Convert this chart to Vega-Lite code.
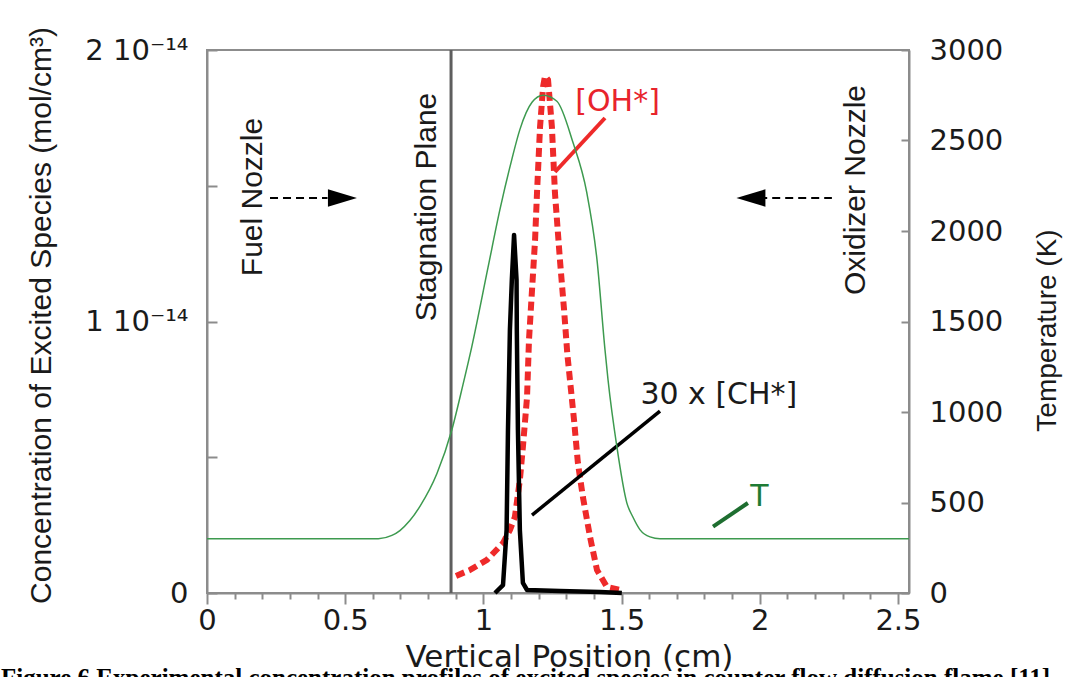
{
  "$schema": "https://vega.github.io/schema/vega-lite/v6.json",
  "width": 702,
  "height": 543,
  "autosize": {"type": "none"},
  "padding": {"left": 207, "top": 50, "right": 160, "bottom": 84},
  "background": "white",
  "config": {
    "view": {"stroke": "#8c8c8c", "strokeWidth": 2},
    "axis": {
      "domainColor": "#8c8c8c",
      "domainWidth": 2,
      "tickColor": "#8c8c8c",
      "tickWidth": 2,
      "grid": false,
      "labelFont": "DejaVu Sans",
      "labelFontSize": 29,
      "labelColor": "#1a1a1a",
      "titleColor": "#1a1a1a",
      "titleFontWeight": "normal",
      "labelOverlap": false,
      "labelFlush": false,
      "labelBound": false
    }
  },
  "title": {
    "text": "Figure 6 Experimental concentration profiles of excited species in counter flow diffusion flame [11]",
    "orient": "bottom",
    "anchor": "start",
    "font": "Liberation Serif",
    "fontWeight": "bold",
    "fontSize": 25,
    "color": "#000000",
    "offset": -6,
    "dx": -25
  },
  "resolve": {"scale": {"y": "independent"}, "axis": {"x": "independent"}},
  "layer": [
    {
      "layer": [
        {
          "data": {"values": [
            {"pos": 0.901, "conc": 0.063e-14},
            {"pos": 0.952, "conc": 0.085e-14},
            {"pos": 1.013, "conc": 0.122e-14},
            {"pos": 1.071, "conc": 0.184e-14},
            {"pos": 1.096, "conc": 0.232e-14},
            {"pos": 1.114, "conc": 0.280e-14},
            {"pos": 1.132, "conc": 0.416e-14},
            {"pos": 1.143, "conc": 0.538e-14},
            {"pos": 1.158, "conc": 0.722e-14},
            {"pos": 1.165, "conc": 0.932e-14},
            {"pos": 1.176, "conc": 1.116e-14},
            {"pos": 1.187, "conc": 1.300e-14},
            {"pos": 1.194, "conc": 1.473e-14},
            {"pos": 1.205, "conc": 1.716e-14},
            {"pos": 1.216, "conc": 1.864e-14},
            {"pos": 1.223, "conc": 1.904e-14},
            {"pos": 1.234, "conc": 1.890e-14},
            {"pos": 1.248, "conc": 1.716e-14},
            {"pos": 1.259, "conc": 1.473e-14},
            {"pos": 1.277, "conc": 1.227e-14},
            {"pos": 1.292, "conc": 1.042e-14},
            {"pos": 1.304, "conc": 0.877e-14},
            {"pos": 1.317, "conc": 0.748e-14},
            {"pos": 1.328, "conc": 0.637e-14},
            {"pos": 1.342, "conc": 0.479e-14},
            {"pos": 1.360, "conc": 0.354e-14},
            {"pos": 1.386, "conc": 0.206e-14},
            {"pos": 1.411, "conc": 0.085e-14},
            {"pos": 1.447, "conc": 0.022e-14},
            {"pos": 1.494, "conc": 0.011e-14}
          ]},
          "mark": {"type": "line", "color": "#ee2a2a", "strokeWidth": 6, "strokeDash": [9, 5], "strokeCap": "butt"},
          "encoding": {
            "x": {
              "field": "pos", "type": "quantitative", "sort": null,
              "scale": {"domain": [0, 2.54], "nice": false, "zero": false},
              "axis": {
                "orient": "bottom",
                "values": [0, 0.5, 1, 1.5, 2, 2.5],
                "format": "~g",
                "tickSize": 11,
                "labelPadding": 2,
                "title": "Vertical Position (cm)",
                "titleFont": "DejaVu Sans",
                "titleFontSize": 31,
                "titleX": 362,
                "titleY": 73,
                "titleAlign": "center",
                "titleBaseline": "alphabetic"
              }
            },
            "y": {
              "field": "conc", "type": "quantitative",
              "scale": {"domain": [0, 2e-14], "nice": false},
              "axis": {
                "values": [0, 5e-15, 1e-14, 1.5e-14, 2e-14],
                "tickSize": -10,
                "labelPadding": 29,
                "labelExpr": "datum.value == 0 ? '0' : (abs(datum.value*1e14 - round(datum.value*1e14)) < 0.01 ? round(datum.value*1e14) + ' 10⁻¹⁴' : '')",
                "title": "Concentration of Excited Species (mol/cm³)",
                "titleFont": "Liberation Sans",
                "titleFontSize": 30,
                "titleAngle": 270,
                "titleX": -157,
                "titleY": 265,
                "titleAlign": "center",
                "titleBaseline": "alphabetic"
              }
            }
          }
        },
        {
          "data": {"values": [
            {"pos": 1.042, "conc": 0.0},
            {"pos": 1.071, "conc": 0.029e-14},
            {"pos": 1.084, "conc": 0.232e-14},
            {"pos": 1.089, "conc": 0.600e-14},
            {"pos": 1.096, "conc": 0.969e-14},
            {"pos": 1.103, "conc": 1.153e-14},
            {"pos": 1.111, "conc": 1.319e-14},
            {"pos": 1.120, "conc": 1.153e-14},
            {"pos": 1.121, "conc": 0.969e-14},
            {"pos": 1.125, "conc": 0.600e-14},
            {"pos": 1.132, "conc": 0.232e-14},
            {"pos": 1.143, "conc": 0.037e-14},
            {"pos": 1.158, "conc": 0.011e-14},
            {"pos": 1.277, "conc": 0.007e-14},
            {"pos": 1.422, "conc": 0.004e-14},
            {"pos": 1.501, "conc": 0.0}
          ]},
          "mark": {"type": "line", "color": "#000000", "strokeWidth": 4.5, "strokeJoin": "round"},
          "encoding": {
            "x": {"field": "pos", "type": "quantitative", "sort": null},
            "y": {"field": "conc", "type": "quantitative"}
          }
        },
        {
          "data": {"values": [{"pos": 0.883}]},
          "mark": {"type": "rule", "color": "#5e5e5e", "strokeWidth": 3},
          "encoding": {"x": {"field": "pos", "type": "quantitative"}}
        },
        {
          "data": {"values": [
            {"pos": 1.440, "conc": 1.7495e-14, "pos2": 1.259, "conc2": 1.5506e-14}
          ]},
          "mark": {"type": "rule", "color": "#ee2a2a", "strokeWidth": 4},
          "encoding": {
            "x": {"field": "pos", "type": "quantitative"},
            "y": {"field": "conc", "type": "quantitative"},
            "x2": {"field": "pos2"},
            "y2": {"field": "conc2"}
          }
        },
        {
          "data": {"values": [
            {"pos": 1.639, "conc": 0.670e-14, "pos2": 1.176, "conc2": 0.287e-14}
          ]},
          "mark": {"type": "rule", "color": "#000000", "strokeWidth": 3.5},
          "encoding": {
            "x": {"field": "pos", "type": "quantitative"},
            "y": {"field": "conc", "type": "quantitative"},
            "x2": {"field": "pos2"},
            "y2": {"field": "conc2"}
          }
        },
        {
          "data": {"values": [
            {"pos": 1.831, "conc": 0.2442e-14, "pos2": 1.957, "conc2": 0.3315e-14}
          ]},
          "mark": {"type": "rule", "color": "#1e6e30", "strokeWidth": 4},
          "encoding": {
            "x": {"field": "pos", "type": "quantitative"},
            "y": {"field": "conc", "type": "quantitative"},
            "x2": {"field": "pos2"},
            "y2": {"field": "conc2"}
          }
        },
        {
          "data": {"values": [
            {"pos": 0.228, "pos2": 0.436, "conc": 1.455e-14},
            {"pos": 1.998, "pos2": 2.261, "conc": 1.455e-14}
          ]},
          "mark": {"type": "rule", "color": "#000000", "strokeWidth": 2, "strokeDash": [8, 5]},
          "encoding": {
            "x": {"field": "pos", "type": "quantitative"},
            "x2": {"field": "pos2"},
            "y": {"field": "conc", "type": "quantitative"}
          }
        },
        {
          "data": {"values": [{"pos": 0.490, "conc": 1.455e-14}]},
          "mark": {"type": "point", "shape": "M -1 -0.6 L 1 0 L -1 0.6 Z", "filled": true, "color": "#000000", "size": 841, "opacity": 1},
          "encoding": {
            "x": {"field": "pos", "type": "quantitative"},
            "y": {"field": "conc", "type": "quantitative"}
          }
        },
        {
          "data": {"values": [{"pos": 1.968, "conc": 1.455e-14}]},
          "mark": {"type": "point", "shape": "M 1 -0.6 L -1 0 L 1 0.6 Z", "filled": true, "color": "#000000", "size": 841, "opacity": 1},
          "encoding": {
            "x": {"field": "pos", "type": "quantitative"},
            "y": {"field": "conc", "type": "quantitative"}
          }
        },
        {
          "data": {"values": [
            {"pos": 0.199, "conc": 1.4586e-14, "label": "Fuel Nozzle"},
            {"pos": 0.827, "conc": 1.4217e-14, "label": "Stagnation Plane"},
            {"pos": 2.381, "conc": 1.4843e-14, "label": "Oxidizer Nozzle"}
          ]},
          "mark": {"type": "text", "font": "Liberation Sans", "fontSize": 30, "angle": 270, "align": "center", "baseline": "alphabetic", "color": "#1a1a1a"},
          "encoding": {
            "x": {"field": "pos", "type": "quantitative"},
            "y": {"field": "conc", "type": "quantitative"},
            "text": {"field": "label"}
          }
        },
        {
          "data": {"values": [{"pos": 1.4856, "conc": 1.8103e-14, "label": "[OH*]"}]},
          "mark": {"type": "text", "font": "DejaVu Sans", "fontSize": 30, "align": "center", "baseline": "middle", "color": "#e8242c"},
          "encoding": {
            "x": {"field": "pos", "type": "quantitative"},
            "y": {"field": "conc", "type": "quantitative"},
            "text": {"field": "label"}
          }
        },
        {
          "data": {"values": [{"pos": 1.852, "conc": 0.729e-14, "label": "30 x [CH*]"}]},
          "mark": {"type": "text", "font": "DejaVu Sans", "fontSize": 30, "align": "center", "baseline": "middle", "color": "#1a1a1a"},
          "encoding": {
            "x": {"field": "pos", "type": "quantitative"},
            "y": {"field": "conc", "type": "quantitative"},
            "text": {"field": "label"}
          }
        },
        {
          "data": {"values": [{"pos": 1.999, "conc": 0.3536e-14, "label": "T"}]},
          "mark": {"type": "text", "font": "DejaVu Sans", "fontSize": 30, "align": "center", "baseline": "middle", "color": "#1e7b34"},
          "encoding": {
            "x": {"field": "pos", "type": "quantitative"},
            "y": {"field": "conc", "type": "quantitative"},
            "text": {"field": "label"}
          }
        }
      ]
    },
    {
      "data": {"values": [
        {"pos": 0.0, "temp": 300},
        {"pos": 0.3, "temp": 300},
        {"pos": 0.62, "temp": 300},
        {"pos": 0.669, "temp": 318},
        {"pos": 0.698, "temp": 345},
        {"pos": 0.734, "temp": 400},
        {"pos": 0.771, "temp": 480},
        {"pos": 0.832, "temp": 660},
        {"pos": 0.886, "temp": 902},
        {"pos": 0.926, "temp": 1150},
        {"pos": 0.958, "temp": 1360},
        {"pos": 1.017, "temp": 1800},
        {"pos": 1.060, "temp": 2119},
        {"pos": 1.103, "temp": 2396},
        {"pos": 1.132, "temp": 2560},
        {"pos": 1.176, "temp": 2711},
        {"pos": 1.216, "temp": 2750},
        {"pos": 1.266, "temp": 2717},
        {"pos": 1.324, "temp": 2490},
        {"pos": 1.374, "temp": 2213},
        {"pos": 1.411, "temp": 1842},
        {"pos": 1.440, "temp": 1344},
        {"pos": 1.451, "temp": 1178},
        {"pos": 1.483, "temp": 808},
        {"pos": 1.519, "temp": 498},
        {"pos": 1.541, "temp": 420},
        {"pos": 1.567, "temp": 349},
        {"pos": 1.603, "temp": 310},
        {"pos": 1.639, "temp": 300},
        {"pos": 1.711, "temp": 300},
        {"pos": 2.54, "temp": 300}
      ]},
      "mark": {"type": "line", "color": "#3d9a4f", "strokeWidth": 1.5, "interpolate": "monotone"},
      "encoding": {
        "x": {
          "field": "pos", "type": "quantitative", "sort": null,
          "scale": {"domain": [0, 2.54], "nice": false, "zero": false},
          "axis": {
            "orient": "bottom",
            "values": [0.1,0.2,0.3,0.4,0.6,0.7,0.8,0.9,1.1,1.2,1.3,1.4,1.6,1.7,1.8,1.9,2.1,2.2,2.3,2.4],
            "labels": false,
            "domain": false,
            "tickSize": 6,
            "title": null
          }
        },
        "y": {
          "field": "temp", "type": "quantitative",
          "scale": {"domain": [0, 3000], "nice": false},
          "axis": {
            "orient": "right",
            "values": [0, 500, 1000, 1500, 2000, 2500, 3000],
            "format": "d",
            "tickSize": -8,
            "labelPadding": 28,
            "labelAlign": "left",
            "title": "Temperature (K)",
            "titleFont": "Liberation Sans",
            "titleFontSize": 28,
            "titleAngle": 270,
            "titleX": 146,
            "titleY": 280,
            "titleAlign": "center",
            "titleBaseline": "alphabetic"
          }
        }
      }
    }
  ]
}
